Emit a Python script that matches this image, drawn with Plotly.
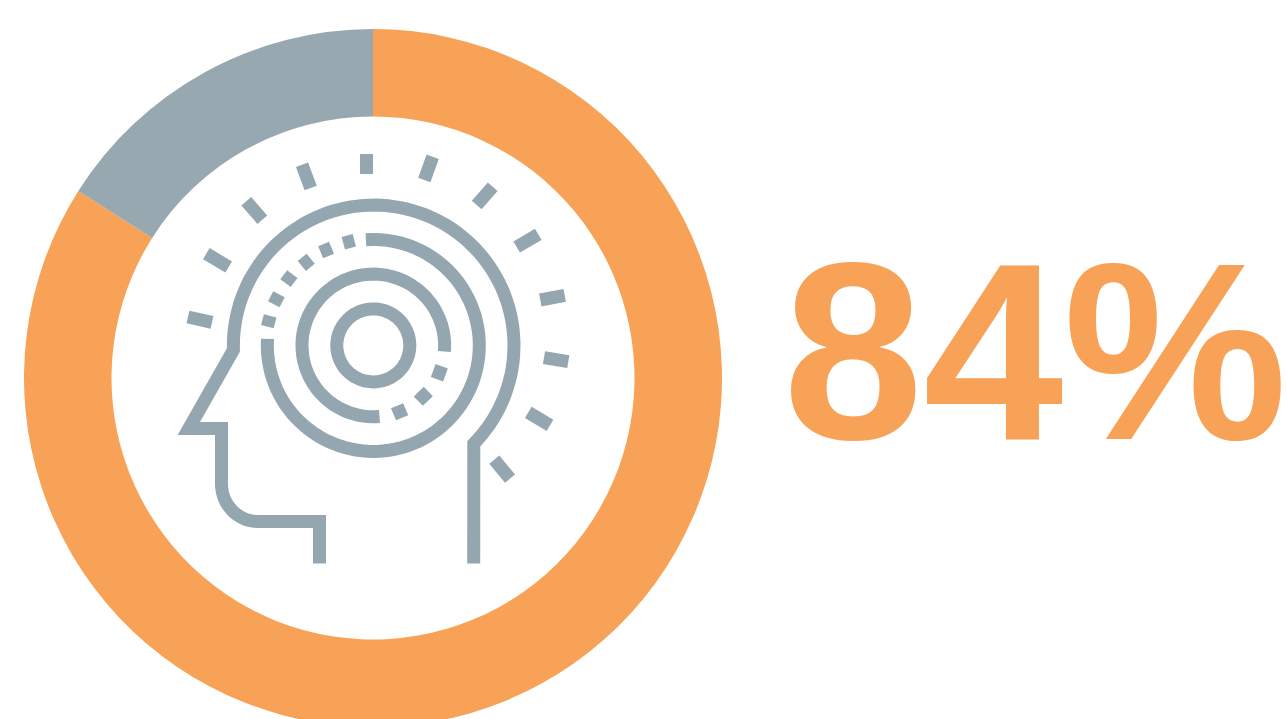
import numpy as np
import plotly.graph_objects as go

# ---- data ----
labels = ["Yes", "No"]
values = [84, 16]
headline = "84%"
ORANGE = "#F8A257"
GREY = "#94A6AF"
SLICE_GREY = "#97A8B0"

W, H = 1287, 760

# ---- icon geometry (pixels) ----
CX, CY = 373.3, 345.4


def arc(r, a0, a1, n=90, cx=CX):
    t = np.radians(np.linspace(a0, a1, n))
    return [(cx + r * np.cos(a), CY + r * np.sin(a)) for a in t]


def path(pts, close=False):
    s = "M" + " L".join(f"{x:.1f},{y:.1f}" for x, y in pts)
    return s + (" Z" if close else "")


def corner(x0, y0, x1, y1, n=16):
    # quarter round from vertical (x0,y0) to horizontal (x1,y1)
    t = np.linspace(0, np.pi / 2, n)
    return [(x1 - (x1 - x0) * np.cos(a), y0 + (y1 - y0) * np.sin(a)) for a in t]


radial_ticks = [
    ((366.5, 154), (366.5, 174)),
    ((302, 164.7), (310.7, 188)),
    ((246.3, 201.3), (262.3, 219.7)),
    ((206.3, 253.7), (228.7, 267)),
    ((188, 317), (212, 322.3)),
    ((432.7, 156.7), (424.3, 180)),
    ((492.7, 186.7), (476.7, 205)),
    ((538.3, 234.3), (516.7, 247)),
    ((564.7, 295.3), (540.3, 300)),
    ((544, 357.7), (568.3, 361.7)),
    ((528.3, 412.3), (550, 425.3)),
    ((494.3, 459.7), (510, 478.7)),
]
ring_dashes = [
    ((270.2, 315.8), (267.3, 326.7)),
    ((279, 294.2), (273.8, 304.2)),
    ((292.3, 274.2), (285.5, 283.2)),
    ((310.7, 258.8), (301.8, 266)),
    ((331.5, 247.7), (320.7, 252.2)),
    ((354.3, 240.3), (343.3, 243.2)),
    ((441.7, 366.2), (437, 379.2)),
    ((428.3, 391.5), (418.3, 401.2)),
    ((405.7, 409.2), (393.5, 414.3)),
]

strokes = []
# head outline
head_path = (
    [(319.5, 563.5), (319.5, 521.5), (258, 521.5)]
    + corner(221.5, 484, 258, 521.5)[::-1]
    + [(221.5, 428.6), (188.8, 428.6), (233.4, 350)]
    + arc(140.3, 180, 360 + 44.5, cx=373.7)
    + [(473.7, 563.5)]
)
strokes.append(path(head_path))
# concentric rings
strokes.append(path(arc(36.5, 0, 360), close=True))
strokes.append(path(arc(71.3, 5, -275)))
strokes.append(path(arc(106, -94, 183.5)))
# dashes and rays
for a, b in radial_ticks + ring_dashes:
    strokes.append(path([a, b]))

shapes = [
    dict(type="path", path=p, xref="x", yref="y",
         line=dict(color=GREY, width=13), fillcolor="rgba(0,0,0,0)", layer="above")
    for p in strokes
]

# donut: centre (373, 378), outer radius 349
fig = go.Figure(
    go.Pie(
        labels=labels,
        values=values,
        hole=261.5 / 349,
        sort=False,
        direction="clockwise",
        rotation=0,
        textinfo="none",
        hoverinfo="label+percent",
        marker=dict(colors=[ORANGE, SLICE_GREY], line=dict(width=0)),
        showlegend=False,
        domain=dict(x=[24 / W, 722 / W], y=[1 - 727 / H, 1 - 29 / H]),
    )
)

fig.update_layout(
    width=W,
    height=H,
    margin=dict(l=0, r=0, t=0, b=0),
    paper_bgcolor="white",
    plot_bgcolor="rgba(0,0,0,0)",
    showlegend=False,
    xaxis=dict(range=[0, W], visible=False, fixedrange=True),
    yaxis=dict(range=[H, 0], visible=False, fixedrange=True),
    shapes=shapes,
    annotations=[
        dict(
            text=f"<b>{headline}</b>",
            x=1034.5, y=351, xref="x", yref="y",
            xanchor="center", yanchor="middle",
            showarrow=False,
            font=dict(family="Liberation Sans", size=252, color=ORANGE),
        )
    ],
)

fig.write_html(
    "out.html",
    config=dict(displayModeBar=False),
    post_script="document.body.style.margin='0';document.documentElement.style.overflow='hidden';document.body.style.overflow='hidden';",
)
